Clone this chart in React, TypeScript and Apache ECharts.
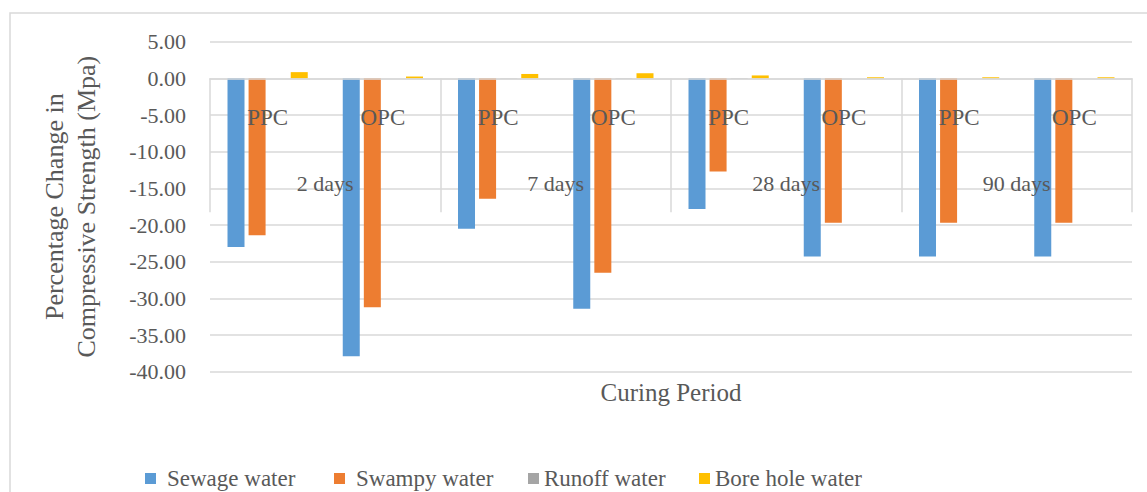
import React, { useEffect, useRef } from "react";
import * as echarts from "echarts";

const cementTypes = ["PPC", "OPC", "PPC", "OPC", "PPC", "OPC", "PPC", "OPC"];
const curingPeriods = ["2 days", "7 days", "28 days", "90 days"];
const sewageWater = [-23.0, -37.9, -20.5, -31.4, -17.8, -24.3, -24.3, -24.3];
const swampyWater = [-21.4, -31.2, -16.4, -26.5, -12.7, -19.7, -19.7, -19.7];
const runoffWater = [0.0, 0.0, 0.05, 0.05, 0.05, 0.0, 0.0, 0.0];
const boreHoleWater = [0.85, 0.25, 0.6, 0.7, 0.4, 0.15, 0.15, 0.15];
const seriesNames = ["Sewage water", "Swampy water", "Runoff water", "Bore hole water"];
const seriesColors = ["#5B9BD5", "#ED7D31", "#A5A5A5", "#FFC000"];
const yMin = -40;
const yMax = 5;

const FONT = "Liberation Serif";
const TEXT = "#595959";
const GRID = "#D9D9D9";

const GRID_TOP = 41.7;
const GRID_BOTTOM = 120.3;
const PLOT_H = 492 - GRID_TOP - GRID_BOTTOM;
// distance from the bottom of the plot up to the zero value
const ZERO_OFFSET = -((0 - yMin) / (yMax - yMin)) * PLOT_H;

export default function App() {
  const ref = useRef<HTMLDivElement>(null);
  useEffect(() => {
    if (!ref.current) return;
    const chart = echarts.init(ref.current, null, { renderer: "svg" });
    const values = [sewageWater, swampyWater, runoffWater, boreHoleWater];
    const legendLefts = [145, 334, 528, 699];
    const legendPads = [6, 6, 0, 0];
    chart.setOption({
      animation: false,
      backgroundColor: "#FFFFFF",
      textStyle: { fontFamily: FONT },
      grid: { left: 210, right: 15, top: GRID_TOP, bottom: GRID_BOTTOM, containLabel: false },
      graphic: [
        {
          type: "rect",
          shape: { x: 10, y: 13, width: 1300, height: 700 },
          style: { fill: "none", stroke: GRID, lineWidth: 1.5 },
          silent: true,
          z: -10,
        },
        {
          type: "text",
          x: 671,
          y: 392,
          style: {
            text: "Curing Period",
            fontFamily: FONT,
            fontSize: 25,
            fill: TEXT,
            align: "center",
            verticalAlign: "middle",
          },
        },
      ],
      legend: seriesNames.map((n, i) => ({
        data: [n],
        left: legendLefts[i],
        top: 467,
        padding: 0,
        itemWidth: 11,
        itemHeight: 11,
        icon: "rect",
        textStyle: {
          fontFamily: FONT,
          fontSize: 23,
          color: TEXT,
          padding: [0, 0, 0, legendPads[i]],
        },
      })),
      xAxis: [
        {
          type: "category",
          data: cementTypes,
          position: "bottom",
          offset: ZERO_OFFSET,
          z: 10,
          axisLine: { show: true, onZero: false, lineStyle: { color: GRID, width: 1.5 } },
          axisTick: { show: false },
          axisLabel: {
            interval: 0,
            margin: 28,
            fontFamily: FONT,
            fontSize: 23,
            color: TEXT,
          },
          splitLine: { show: false },
        },
        {
          type: "category",
          data: curingPeriods,
          position: "bottom",
          offset: ZERO_OFFSET,
          z: 10,
          axisLine: { show: false, onZero: false },
          axisTick: {
            show: true,
            interval: 0,
            length: 134,
            lineStyle: { color: GRID, width: 1.5 },
          },
          axisLabel: {
            interval: 0,
            margin: 94,
            fontFamily: FONT,
            fontSize: 22,
            color: TEXT,
          },
          splitLine: { show: false },
        },
      ],
      yAxis: {
        type: "value",
        min: yMin,
        max: yMax,
        interval: 5,
        name: "Percentage Change in\nCompressive Strength (Mpa)",
        nameLocation: "middle",
        nameRotate: 90,
        nameGap: 108,
        nameTextStyle: {
          fontFamily: FONT,
          fontSize: 26,
          color: TEXT,
          lineHeight: 32,
        },
        axisLine: { show: false },
        axisTick: { show: false },
        axisLabel: {
          margin: 24,
          fontFamily: FONT,
          fontSize: 22,
          color: TEXT,
          formatter: (v: number) => v.toFixed(2),
        },
        splitLine: { show: true, lineStyle: { color: GRID, width: 1.5 } },
      },
      series: seriesNames.map((n, i) => ({
        name: n,
        type: "bar",
        xAxisIndex: 0,
        data: values[i],
        barWidth: 17,
        barGap: "24%",
        itemStyle: { color: seriesColors[i] },
      })),
    });
    return () => chart.dispose();
  }, []);
  return (
    <div
      ref={ref}
      style={{ position: "fixed", left: 0, top: 0, width: 1147, height: 492 }}
    />
  );
}
